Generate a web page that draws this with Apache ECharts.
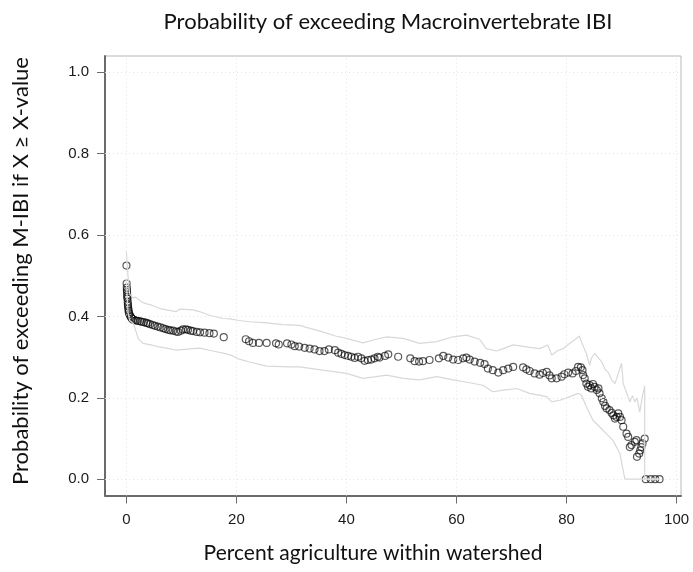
<!DOCTYPE html>
<html>
<head>
<meta charset="utf-8">
<script src="https://cdn.jsdelivr.net/npm/echarts@6/dist/echarts.min.js"></script>
<style>html,body{margin:0;padding:0;background:#fff}#chart{width:693px;height:572px}</style>
</head>
<body>
<div id="chart"></div>
<script>
// Percent agriculture (x) and probability of exceeding M-IBI (y) for each site
const pointX = [0.02,0.05,0.08,0.10,0.12,0.15,0.18,0.20,0.25,0.28,0.30,0.35,0.40,0.45,0.55,0.70,0.85,1.0,1.2,1.5,1.8,2.1,2.5,2.8,3.2,3.6,3.9,4.3,4.8,5.2,5.7,6.2,6.7,7.1,7.6,8.0,8.5,9.0,9.4,9.9,10.3,10.8,11.2,11.7,12.1,12.8,13.4,14.2,15.1,15.9,17.7,21.7,22.3,23.0,24.1,25.5,27.2,27.7,29.2,30.0,30.6,31.4,32.4,33.3,34.2,35.1,36.0,36.8,37.9,38.5,39.1,39.7,40.3,40.9,41.5,42.1,42.7,43.3,43.9,44.5,45.1,45.7,46.0,47.0,47.6,49.4,51.6,52.4,53.2,53.9,55.1,56.8,57.6,58.5,59.4,60.3,61.2,61.8,62.4,63.3,64.3,65.1,65.7,66.6,67.6,68.5,69.4,70.3,72.1,72.7,73.3,74.2,75.1,75.7,76.4,76.9,77.3,78.2,79.1,79.6,80.3,81.1,81.7,82.1,82.6,82.9,83.0,83.3,83.6,83.9,84.2,84.5,84.8,85.1,85.5,85.8,86.0,86.4,86.7,87.0,87.3,87.8,88.2,88.5,88.8,89.1,89.4,89.7,90.0,90.3,90.9,91.2,91.5,91.8,92.4,92.7,92.8,93.2,93.4,93.6,93.8,94.2,94.4,95.3,96.1,96.9];
const pointY = [0.525,0.481,0.471,0.465,0.460,0.453,0.448,0.444,0.436,0.430,0.426,0.420,0.415,0.410,0.406,0.401,0.398,0.395,0.392,0.391,0.390,0.389,0.388,0.387,0.386,0.384,0.383,0.381,0.379,0.377,0.375,0.373,0.371,0.369,0.367,0.366,0.365,0.363,0.362,0.365,0.368,0.368,0.367,0.365,0.364,0.362,0.361,0.360,0.359,0.358,0.349,0.344,0.339,0.335,0.335,0.335,0.334,0.331,0.334,0.331,0.327,0.326,0.323,0.321,0.319,0.315,0.315,0.319,0.317,0.311,0.308,0.305,0.303,0.301,0.298,0.301,0.297,0.291,0.293,0.294,0.297,0.301,0.299,0.303,0.307,0.301,0.297,0.290,0.289,0.290,0.293,0.297,0.303,0.299,0.294,0.293,0.297,0.299,0.294,0.289,0.286,0.283,0.272,0.268,0.262,0.268,0.272,0.276,0.275,0.270,0.266,0.260,0.257,0.261,0.264,0.255,0.248,0.248,0.252,0.258,0.262,0.260,0.266,0.276,0.275,0.268,0.256,0.248,0.235,0.227,0.231,0.223,0.234,0.227,0.219,0.223,0.211,0.199,0.190,0.180,0.174,0.170,0.163,0.157,0.149,0.153,0.162,0.153,0.145,0.129,0.112,0.104,0.079,0.084,0.092,0.096,0.055,0.063,0.071,0.079,0.088,0.100,0,0,0,0];

// Upper and lower confidence bands
const upperX = [0,0.3,0.6,1.2,1.6,3.0,4.5,6.0,7.3,9.1,9.7,12.1,13.3,15.1,17.6,18.8,20.5,22.4,25,28.5,31.5,33.5,35.7,38,40,43,45.4,47.3,50.3,53.3,56.4,59.4,61.8,64.2,65.4,67.3,68.5,70.3,73.3,75.1,76.6,77.3,78.5,79.4,80.6,81.8,82.3,83.0,83.6,84.2,84.5,85.1,85.7,86.4,87.0,87.6,88.2,88.8,89.4,90.0,90.3,90.9,91.5,92.0,92.4,92.8,93.3,93.8,94.2,94.2,96.9];
const upperY = [0.56,0.50,0.455,0.445,0.448,0.434,0.428,0.420,0.416,0.412,0.418,0.416,0.412,0.403,0.395,0.394,0.390,0.387,0.385,0.380,0.378,0.370,0.362,0.352,0.346,0.335,0.344,0.350,0.346,0.334,0.338,0.350,0.354,0.344,0.321,0.315,0.321,0.330,0.324,0.321,0.330,0.305,0.317,0.321,0.334,0.346,0.352,0.328,0.309,0.280,0.297,0.309,0.300,0.288,0.270,0.262,0.244,0.235,0.260,0.285,0.235,0.213,0.190,0.205,0.190,0.200,0.165,0.205,0.229,0,0];
const lowerX = [0,0.3,0.6,1.3,2.2,3.0,4.5,6.0,7.3,9.1,12.1,13.3,15.1,18.2,19.4,20.5,22.4,25.5,29.7,31.5,35.7,40,43,45.4,47.3,50.3,53.3,56.4,59.4,62.4,64.8,66.6,68.5,70.9,73.3,76.4,77.3,78.8,80.6,82.1,82.7,83.6,84.8,86.0,87.2,88.4,89.7,90.6,94.2,96.9];
const lowerY = [0.49,0.41,0.39,0.382,0.345,0.334,0.330,0.325,0.322,0.317,0.321,0.322,0.317,0.308,0.303,0.295,0.288,0.278,0.276,0.276,0.268,0.260,0.248,0.252,0.256,0.248,0.244,0.252,0.244,0.237,0.231,0.215,0.219,0.223,0.211,0.203,0.190,0.194,0.203,0.211,0.207,0.178,0.145,0.129,0.112,0.096,0.063,0,0,0];

const xTicks = [0,20,40,60,80,100];
const yTicks = [0,0.2,0.4,0.6,0.8,1.0];

const titleText = 'Probability of exceeding Macroinvertebrate IBI';
const xTitle = 'Percent agriculture within watershed';
const yTitle = 'Probability of exceeding M-IBI if X \u2265 X-value';

const zip = (a, b) => a.map((v, i) => [v, b[i]]);

const chart = echarts.init(document.getElementById('chart'), null, {renderer: 'canvas'});
chart.setOption({
  animation: false,
  backgroundColor: '#fff',
  grid: {left: 105, right: 12, top: 56, bottom: 76.5, show: true, borderColor: '#b8b8b8', borderWidth: 1, backgroundColor: 'transparent'},
  xAxis: {
    type: 'value', min: -3.88, max: 100.8,
    axisLine: {show: true, onZero: false, lineStyle: {color: '#6a6a6a', width: 2}},
    axisTick: {show: true, length: 8, customValues: xTicks, lineStyle: {color: '#6a6a6a', width: 1}},
    axisLabel: {customValues: xTicks, margin: 17, color: '#1a1a1a', fontSize: 15, fontFamily: 'Liberation Sans'},
    splitLine: {show: false}
  },
  yAxis: {
    type: 'value', min: -0.04, max: 1.04,
    axisLine: {show: true, onZero: false, lineStyle: {color: '#6a6a6a', width: 2}},
    axisTick: {show: true, length: 8, customValues: yTicks, lineStyle: {color: '#6a6a6a', width: 1}},
    axisLabel: {customValues: yTicks, margin: 16, color: '#1a1a1a', fontSize: 15, fontFamily: 'Liberation Sans',
      formatter: v => v.toFixed(1)},
    splitLine: {show: false}
  },
  graphic: [
    {type: 'text', x: 388, y: 22, style: {text: titleText, font: '22px Lato', fill: '#111', textAlign: 'center', textVerticalAlign: 'middle'}},
    {type: 'text', x: 373, y: 553, style: {text: xTitle, font: '21px Lato', fill: '#111', textAlign: 'center', textVerticalAlign: 'middle'}},
    {type: 'text', x: 21, y: 271, rotation: Math.PI / 2, style: {text: yTitle, font: '22px Lato', fill: '#111', textAlign: 'center', textVerticalAlign: 'middle'}}
  ],
  series: [
    {
      type: 'line', data: [], silent: true,
      markLine: {
        silent: true, symbol: ['none', 'none'], label: {show: false},
        lineStyle: {color: '#e4e4e4', type: [1, 3], width: 1},
        data: xTicks.map(v => ({xAxis: v})).concat(yTicks.map(v => ({yAxis: v})))
      }
    },
    {type: 'line', data: zip(upperX, upperY), showSymbol: false, silent: true,
      lineStyle: {color: '#d8d8d8', width: 1.2}},
    {type: 'line', data: zip(lowerX, lowerY), showSymbol: false, silent: true,
      lineStyle: {color: '#d8d8d8', width: 1.2}},
    {type: 'scatter', data: zip(pointX, pointY), symbol: 'circle', symbolSize: 7, silent: true,
      itemStyle: {color: 'rgba(255,255,255,0)', borderColor: 'rgba(0,0,0,0.8)', borderWidth: 1.2}}
  ]
});
</script>
</body>
</html>
